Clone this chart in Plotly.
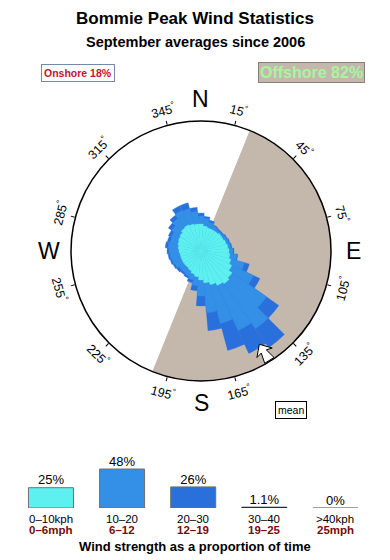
import numpy as np
import plotly.graph_objects as go

W, H = 390, 560
FONT = "Liberation Sans, Arial, sans-serif"

# ---------------- data ----------------
directions = list(range(0, 360, 10))          # bin centres (deg, compass)
# cumulative rose radii (share of the 0..130 ring scale)
r_0_10 = [27, 25, 24, 24, 24, 25, 25, 26, 27, 28, 29, 31, 34, 38, 40, 38, 35, 32,
          29, 26, 24, 22, 21, 21, 21, 21, 21, 22, 23, 24, 25, 26, 28, 29, 28, 27]
r_0_20 = [35, 33, 30, 28, 27, 27, 28, 29, 30, 32, 36, 45, 58, 80, 95, 88, 75, 62,
          45, 35, 30, 28, 27, 27, 29, 30, 31, 32, 33, 32, 33, 36, 40, 45, 44, 40]
r_0_30 = [38, 35, 32, 29, 28, 28, 29, 30, 31, 33, 37, 50, 65, 95, 118, 113, 103, 80,
          55, 40, 33, 30, 29, 30, 31, 32, 33, 34, 36, 35, 36, 40, 44, 50, 50, 44]
ring_max = 130
offshore_from, offshore_to = 22, 202
mean_dir = 148
onshore_pct, offshore_pct = 18, 82

speed_kph = ["0–10kph", "10–20", "20–30", "30–40", ">40kph"]
speed_mph = ["0–6mph", "6–12", "12–19", "19–25", "25mph"]
speed_pct = [25, 48, 26, 1.1, 0]
speed_txt = ["25%", "48%", "26%", "1.1%", "0%"]
speed_cols = ["#5ef0ee", "#3390e6", "#2970dc", "#1c2c50", "#a0a0a0"]

tick_angles = list(range(15, 360, 30))
cardinals = ["N", "E", "S", "W"]
cardinal_angles = [0, 90, 180, 270]

# ---------------- geometry ----------------
cx, cy, R = 201, 251, 130


def px(x):
    return x / W


def py(y):
    return 1 - y / H


def text_ann(x, y, text, size, color="black", **kw):
    d = dict(x=px(x), y=py(y), xref="paper", yref="paper", showarrow=False,
             xanchor="center", yanchor="middle", text=text,
             font=dict(family=FONT, size=size, color=color))
    d.update(kw)
    return d


fig = go.Figure()

# offshore half
fig.add_trace(go.Barpolar(
    r=[ring_max], theta=[(offshore_from + offshore_to) / 2],
    width=[offshore_to - offshore_from],
    marker=dict(color="#c4b8ad", line=dict(width=0)), hoverinfo="skip"))

for rr, col in [(r_0_30, speed_cols[2]), (r_0_20, speed_cols[1]), (r_0_10, speed_cols[0])]:
    fig.add_trace(go.Barpolar(
        r=rr, theta=directions, width=[10] * len(directions),
        marker=dict(color=col, line=dict(width=0.3, color=col)), hoverinfo="skip"))

# mean arrow
th = np.deg2rad(mean_dir)
u = np.array([np.sin(th), np.cos(th)])      # outward (east, north)
v = np.array([np.cos(th), -np.sin(th)])     # tangential
tip = 110 * u
shape = [(0, 0), (10, 9), (8.5, 3), (19, 5.5), (19, -5.5), (8.5, -3), (10, -9), (0, 0)]
ar, at = [], []
for a, b in shape:
    p = tip + a * u + b * v
    ar.append(float(np.hypot(p[0], p[1])))
    at.append(float(np.degrees(np.arctan2(p[0], p[1])) % 360))
fig.add_trace(go.Scatterpolar(r=ar, theta=at, mode="lines", fill="toself",
                              fillcolor="white", line=dict(color="black", width=1),
                              hoverinfo="skip"))

fig.update_layout(
    polar=dict(
        domain=dict(x=[px(cx - R), px(cx + R)], y=[py(cy + R), py(cy - R)]),
        bgcolor="white",
        barmode="overlay",
        bargap=0,
        radialaxis=dict(visible=False, range=[0, ring_max]),
        angularaxis=dict(rotation=90, direction="clockwise", showgrid=False,
                         linecolor="black", linewidth=1.5,
                         tickmode="array", tickvals=tick_angles, ticks="outside",
                         ticklen=4, tickcolor="black", showticklabels=False),
    ),
)

ann = []
# angle tick labels
for a in tick_angles:
    t = np.deg2rad(a)
    x = cx + 146 * np.sin(t)
    y = cy - 146 * np.cos(t)
    rot = a - 180 if 90 < a < 270 else (a if a < 90 else a - 360)
    ann.append(text_ann(x, y, f"{a}<sup>°</sup>", 12.5, textangle=rot))
for lab, a in zip(cardinals, cardinal_angles):
    t = np.deg2rad(a)
    x = cx + 152 * np.sin(t)
    y = cy - 152 * np.cos(t)
    ann.append(text_ann(x, y, lab, 23))

# titles
ann.append(text_ann(195, 18, "<b>Bommie Peak Wind Statistics</b>", 17))
ann.append(text_ann(195, 42, "<b>September averages since 2006</b>", 14.5))
# onshore / offshore
ann.append(text_ann(77.5, 73, f"<b>Onshore {onshore_pct}%</b>", 10.5, "#c8102e",
                    bgcolor="white", bordercolor="#7888a8", borderwidth=1, borderpad=2))
ann.append(text_ann(311, 73, f"<b>Offshore {offshore_pct}%</b>", 16, "#a8f5a0",
                    bgcolor="#c4b8ad", bordercolor="#8a8078", borderwidth=1, borderpad=1))
ann.append(text_ann(291, 410, "mean", 10.5, bgcolor="white", bordercolor="black",
                    borderwidth=1, borderpad=2))

# ---------------- speed histogram ----------------
fig.add_trace(go.Bar(x=list(range(5)), y=speed_pct, width=0.633,
                     marker=dict(color=speed_cols, line=dict(color="#6f6f6f", width=1)),
                     xaxis="x", yaxis="y", hoverinfo="skip"))
fig.add_trace(go.Scatter(x=list(range(5)), y=speed_pct, mode="text", text=speed_txt,
                         textposition="top center",
                         textfont=dict(family=FONT, size=13, color="black"),
                         xaxis="x", yaxis="y", hoverinfo="skip"))
shapes = []
for i, (p, c) in enumerate(zip(speed_pct, speed_cols)):
    if p < 2:
        shapes.append(dict(type="line", xref="x", yref="y", x0=i - 0.316, x1=i + 0.316,
                           y0=0, y1=0, line=dict(color=c, width=2)))
for i in range(5):
    ann.append(dict(x=i, y=0, xref="x", yref="y", yshift=-11, showarrow=False,
                    xanchor="center", yanchor="middle",
                    text=speed_kph[i], font=dict(family=FONT, size=11.5, color="black")))
    ann.append(dict(x=i, y=0, xref="x", yref="y", yshift=-22, showarrow=False,
                    xanchor="center", yanchor="middle",
                    text=f"<b>{speed_mph[i]}</b>",
                    font=dict(family=FONT, size=11.5, color="#7a0a0a")))
ann.append(text_ann(195, 546, "<b>Wind strength as a proportion of time</b>", 13))

fig.update_layout(
    xaxis=dict(domain=[15.4 / W, 371 / W], range=[-0.5, 4.5], visible=False, fixedrange=True),
    yaxis=dict(domain=[py(508), py(428)], range=[0, 80 / 0.8125], visible=False, fixedrange=True),
    annotations=ann, shapes=shapes,
    width=W, height=H, margin=dict(l=0, r=0, t=0, b=0),
    paper_bgcolor="white", plot_bgcolor="white", showlegend=False,
    font=dict(family=FONT),
)

fig.write_html("out.html", config={"displayModeBar": False})
